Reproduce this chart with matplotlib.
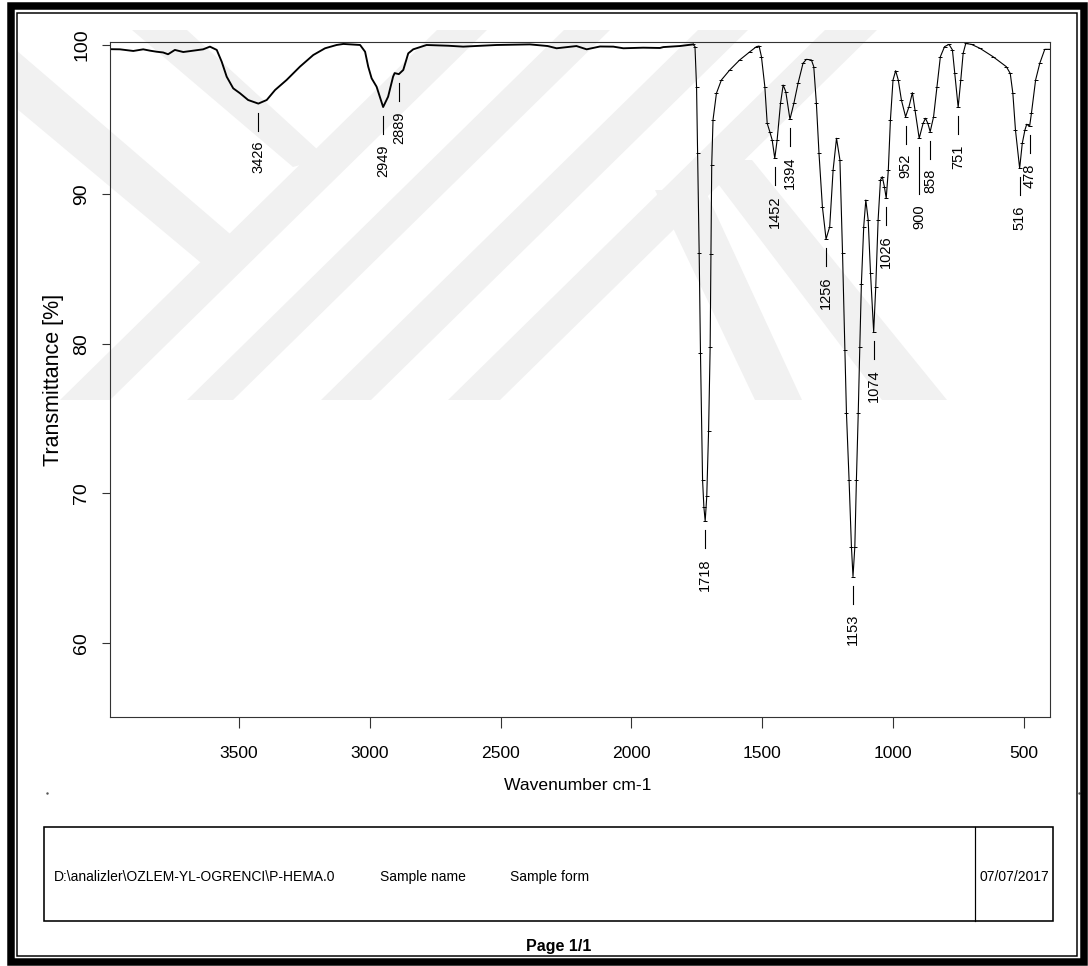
import matplotlib
matplotlib.use("Agg")
import matplotlib.pyplot as plt
from matplotlib.patches import Polygon, Rectangle
from matplotlib.lines import Line2D
from matplotlib.transforms import Affine2D

plt.rcParams['font.family'] = ['Liberation Sans', 'DejaVu Sans']

# ---- FTIR spectrum of P-HEMA: wavenumber (cm-1) / transmittance (%) ----
# high-wavenumber region (scanned trace)
wn_high = [3993, 3955, 3904, 3866, 3840, 3815, 3790, 3771, 3745, 3713, 3675, 3637,
           3611, 3585, 3566, 3547, 3522, 3496, 3465, 3426, 3394, 3362, 3318, 3267,
           3216, 3171, 3127, 3101, 3037, 3018, 3006, 2993, 2974, 2949, 2930, 2911,
           2905, 2889, 2872, 2853, 2834, 2783, 2700, 2643, 2515, 2388, 2320, 2286,
           2210, 2171, 2120, 2069, 2031, 1955, 1891, 1878, 1815, 1764]
t_high = [99.72, 99.71, 99.60, 99.71, 99.62, 99.55, 99.50, 99.38, 99.67, 99.53, 99.62, 99.71,
          99.89, 99.67, 98.88, 97.88, 97.10, 96.77, 96.32, 96.08, 96.32, 96.99, 97.66, 98.55,
          99.33, 99.78, 100.00, 100.07, 100.00, 99.55, 98.55, 97.77, 97.21, 95.85, 96.54, 97.88,
          98.12, 98.05, 98.33, 99.44, 99.71, 100.00, 99.95, 99.89, 100.00, 100.04, 99.93, 99.78,
          99.93, 99.71, 99.90, 99.89, 99.78, 99.82, 99.80, 99.86, 99.93, 100.04]

# fingerprint region (point-by-point trace)
wn_low = [1764, 1757, 1751, 1747, 1741, 1736, 1728, 1723, 1718, 1712, 1705, 1699, 1696,
          1693, 1688, 1675, 1656, 1624, 1586, 1547, 1522, 1512, 1503, 1490, 1481, 1471,
          1462, 1452, 1443, 1430, 1420, 1410, 1394, 1379, 1363, 1344, 1331, 1312, 1303,
          1293, 1283, 1270, 1256, 1242, 1229, 1216, 1203, 1193, 1184, 1178, 1168, 1159,
          1153, 1146, 1140, 1133, 1127, 1121, 1112, 1104, 1095, 1086, 1074, 1066, 1057,
          1048, 1041, 1033, 1026, 1018, 1010, 1000, 990, 980, 968, 952, 939, 926, 916,
          900, 885, 876, 867, 858, 845, 832, 819, 803, 786, 773, 764, 751, 741, 732, 722,
          700, 668, 618, 567, 552, 542, 532, 516, 506, 496, 489, 478, 471, 455, 439, 420, 401]
t_low = [100.04, 99.89, 97.21, 92.80, 86.10, 79.40, 70.90, 69.10, 68.15, 69.80, 74.20, 79.80, 86.00,
         92.00, 95.00, 96.77, 97.66, 98.33, 99.00, 99.55, 99.89, 99.93, 99.22, 97.21, 94.76, 94.20,
         93.65, 92.42, 93.65, 96.10, 97.32, 96.88, 95.03, 96.10, 97.44, 98.78, 99.04, 99.00, 98.55,
         96.10, 92.76, 89.18, 87.02, 87.85, 91.64, 93.76, 92.31, 86.07, 79.60, 75.36, 70.90, 66.44,
         64.44, 66.44, 70.90, 75.36, 79.80, 84.00, 87.85, 89.63, 88.30, 84.73, 80.80, 83.83, 88.30,
         90.97, 91.19, 90.52, 89.75, 91.64, 94.98, 97.66, 98.28, 97.66, 96.32, 95.20, 95.87, 96.81, 95.65,
         93.76, 94.76, 95.10, 94.76, 94.20, 95.20, 97.21, 99.22, 99.89, 100.04, 99.67, 98.10, 95.83, 97.66, 99.44, 100.10,
         100.04, 99.78, 99.22, 98.55, 98.10, 96.77, 94.31, 91.75, 93.42, 94.30, 94.70, 94.55, 95.43, 97.66, 98.78, 99.71, 99.71]

# labelled band positions and their transmittance minima
peak_wn = [3426, 2949, 2889, 1718, 1452, 1394, 1256, 1153, 1074, 1026, 952, 900, 858, 751, 516, 478]
peak_t = [96.08, 95.85, 98.05, 68.15, 92.42, 95.03, 87.02, 64.44, 80.80, 89.75, 95.20, 93.76, 94.20, 95.83, 91.75, 94.55]

x_ticks = [3500, 3000, 2500, 2000, 1500, 1000, 500]
y_ticks = [60, 70, 80, 90, 100]

file_path = r"D:\analizler\OZLEM-YL-OGRENCI\P-HEMA.0"
sample_name = "Sample name"
sample_form = "Sample form"
date_text = "07/07/2017"
page_text = "Page 1/1"

# ---- page ----
W, H = 1088, 966
fig = plt.figure(figsize=(W / 100, H / 100), dpi=100)
fig.patch.set_facecolor('white')
pix = Affine2D().scale(1 / W, -1 / H).translate(0, 1) + fig.transFigure


def px_lw(p):
    return p * 0.72


# faint background emblem (diagonal bands)
wm = '#f1f1f1'
y_top, y_bot = 30, 400
shift = 377
band_shapes = []
for x0, x1 in [(60, 110), (187, 233), (321, 371), (448, 500)]:
    band_shapes.append([(x0, y_bot), (x1, y_bot), (x1 + shift, y_top), (x0 + shift, y_top)])
band_shapes.append([(16, 50), (250, 251), (220, 262), (200, 262), (16, 108)])
band_shapes.append([(132, y_top), (187, y_top), (318, 150), (300, 165), (293, 167)])
band_shapes.append([(655, 190), (705, 190), (802, y_bot), (755, y_bot)])
band_shapes.append([(700, 160), (752, 160), (947, y_bot), (882, y_bot)])
for pts in band_shapes:
    fig.patches.append(Polygon(pts, closed=True, transform=pix, facecolor=wm,
                               edgecolor='none', zorder=-10))

# ---- spectrum axes ----
ax_l, ax_t, ax_r, ax_b = 110, 42, 1050, 717
ax = fig.add_axes([ax_l / W, 1 - ax_b / H, (ax_r - ax_l) / W, (ax_b - ax_t) / H])
ax.set_facecolor('none')
xmin, xmax = 3993, 400
ymin, ymax = 55.05, 100.2
ax.set_xlim(xmin, xmax)
ax.set_ylim(ymin, ymax)

ax.plot(wn_high, t_high, color='black', lw=1.35, solid_joinstyle='round')
ax.plot(wn_low, t_low, color='black', lw=0.8, marker='_', markersize=3,
        markeredgewidth=0.7)

for s in ax.spines.values():
    s.set_color('#333333')
    s.set_linewidth(0.8)

ax.set_xticks(x_ticks)
ax.set_xticklabels([str(v) for v in x_ticks])
ax.set_yticks(y_ticks)
ax.set_yticklabels([str(v) for v in y_ticks])
ax.tick_params(axis='x', direction='out', length=px_lw(11), width=0.8,
               pad=px_lw(18), labelsize=12.6, color='#333333')
ax.tick_params(axis='y', direction='out', length=px_lw(8), width=0.8,
               pad=px_lw(12), labelsize=14, labelrotation=90, color='#333333')
for lab in ax.get_yticklabels():
    lab.set_va('center')

ax.set_xlabel('Wavenumber cm-1', fontsize=12.6)
ax.xaxis.set_label_coords((578 - ax_l) / (ax_r - ax_l), (ax_b - 785) / (ax_b - ax_t))
ax.xaxis.label.set_va('center')
ax.set_ylabel('Transmittance [%]', fontsize=15.5)
ax.yaxis.set_label_coords((54 - ax_l) / (ax_r - ax_l), (ax_b - 380) / (ax_b - ax_t))
ax.yaxis.label.set_va('center')

# band markers: short vertical tick under each minimum, label beneath it
ppu = (ax_b - ax_t) / (ymax - ymin)
gap_px, tick_px, text_gap_px = 9, 18, 10
extra_tick = {900: 29}
for wn, t in zip(peak_wn, peak_t):
    length = tick_px + extra_tick.get(wn, 0)
    y0 = t - gap_px / ppu
    y1 = t - (gap_px + length) / ppu
    ax.plot([wn, wn], [y0, y1], color='black', lw=0.8)
    ax.annotate(str(wn), xy=(wn, y1), xytext=(0, -text_gap_px),
                textcoords='offset pixels', rotation=90, ha='center', va='top',
                fontsize=10.5)

# ---- page frame ----
fig.patches.append(Rectangle((10.5, 6), 1073, 955.5, transform=pix, fill=False,
                             edgecolor='black', lw=px_lw(7.5), zorder=5))
fig.patches.append(Rectangle((16.5, 12.5), 1060.5, 943.5, transform=pix, fill=False,
                             edgecolor='black', lw=px_lw(1.5), zorder=5))

# info box
fig.patches.append(Rectangle((44, 827), 1009, 94, transform=pix, fill=False,
                             edgecolor='black', lw=px_lw(1.6), zorder=5))
fig.lines.append(Line2D([975, 975], [827, 921], transform=pix, color='black',
                        lw=px_lw(1.2), zorder=5))
fig.text(54 / W, 1 - 877 / H, file_path, fontsize=10, ha='left', va='center')
fig.text(380 / W, 1 - 877 / H, sample_name, fontsize=10, ha='left', va='center')
fig.text(510 / W, 1 - 877 / H, sample_form, fontsize=10, ha='left', va='center')
fig.text(980 / W, 1 - 877 / H, date_text, fontsize=10, ha='left', va='center')
fig.text(559 / W, 1 - 947 / H, page_text, fontsize=11.5, fontweight='bold',
         ha='center', va='center')
fig.lines.append(Line2D([47, 1079], [793, 793], transform=pix, linestyle='none',
                        marker='.', markersize=1.5, color='#555555'))

fig.savefig('out.png', dpi=100)
